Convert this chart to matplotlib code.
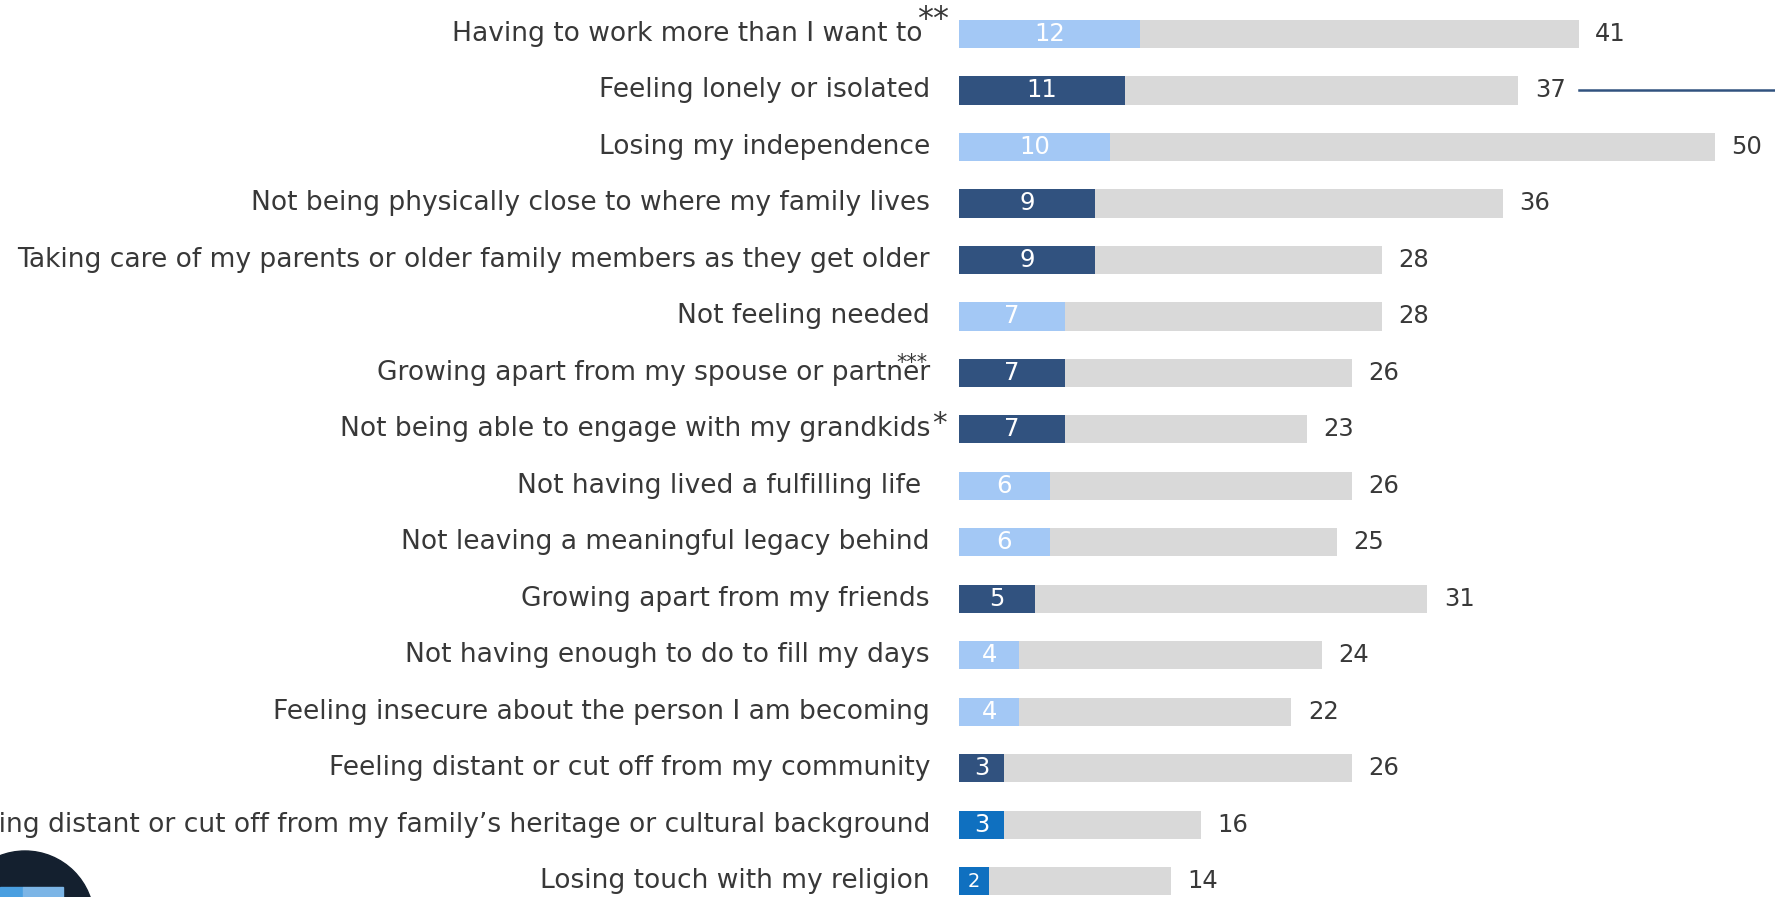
import matplotlib.pyplot as plt
from matplotlib.patches import Circle, Rectangle

# Data (top to bottom)
labels = [
    "Having to work more than I want to",
    "Feeling lonely or isolated",
    "Losing my independence",
    "Not being physically close to where my family lives",
    "Taking care of my parents or older family members as they get older",
    "Not feeling needed",
    "Growing apart from my spouse or partner",
    "Not being able to engage with my grandkids",
    "Not having lived a fulfilling life ",
    "Not leaving a meaningful legacy behind",
    "Growing apart from my friends",
    "Not having enough to do to fill my days",
    "Feeling insecure about the person I am becoming",
    "Feeling distant or cut off from my community",
    "Feeling distant or cut off from my family\u2019s heritage or cultural background",
    "Losing touch with my religion",
]
top_values = [12, 11, 10, 9, 9, 7, 7, 7, 6, 6, 5, 4, 4, 3, 3, 2]
total_values = [41, 37, 50, 36, 28, 28, 26, 23, 26, 25, 31, 24, 22, 26, 16, 14]
color_group = ["light", "dark", "light", "dark", "dark", "light", "dark", "dark",
               "light", "light", "dark", "light", "light", "dark", "bright", "bright"]

colors = {"light": "#A3C8F5", "dark": "#31527F", "bright": "#0F70C0"}
gray = "#D9D9D9"
text_color = "#383838"

plt.rcParams['font.family'] = ['DejaVu Sans']

fig = plt.figure(figsize=(17.75, 8.97), dpi=100)
ax = fig.add_axes([959 / 1775, 0, 1 - 959 / 1775, 1])
ax.set_xlim(0, 54)
ax.set_ylim(15.28, -0.602)
ax.axis('off')

ys = list(range(len(labels)))
bar_h = 0.5
ax.barh(ys, total_values, height=bar_h, color=gray)
ax.barh(ys, top_values, height=bar_h, color=[colors[g] for g in color_group])

for y, lab, tv, tot in zip(ys, labels, top_values, total_values):
    xr = -2.4 if y == 0 else -1.92
    ax.text(xr, y, lab, ha='right', va='center', fontsize=19.1, color=text_color,
            clip_on=False)
    fs = 17.5 if tv > 2 else 14
    ax.text(tv / 2, y, str(tv), ha='center', va='center', fontsize=fs, color='white')
    ax.text(tot + 1.1, y, str(tot), ha='left', va='center', fontsize=17.5, color=text_color)

# significance marks
ax.text(-2.8, -0.25, "**", ha='left', va='center', fontsize=23, color=text_color)
ax.text(-3.1, 5.82, "***", ha='center', va='center', fontsize=15, color=text_color)
ax.text(-1.8, 6.9, "*", ha='left', va='center', fontsize=21, color=text_color)

# connector line from "37"
ax.plot([37 + 4.0, 54], [1, 1], color="#31527F", lw=1.8, clip_on=False)

# logo fragment bottom-left
fig.patches.append(Circle((25, 897 - 920), 69, transform=None, color="#14202F", zorder=5))
fig.patches.append(Rectangle((0, 0), 23, 10, transform=None, color="#4A9FE0", zorder=6))
fig.patches.append(Rectangle((23, 0), 40, 10, transform=None, color="#7CB5E6", zorder=6))

fig.savefig("out.png", dpi=100)
